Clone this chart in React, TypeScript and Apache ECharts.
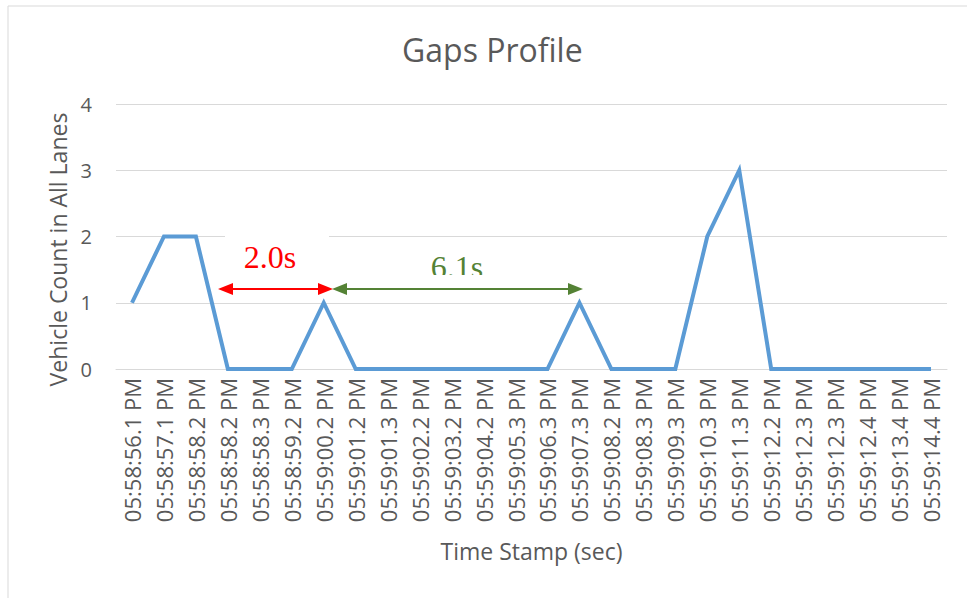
import React, { useEffect, useRef } from "react";
import * as echarts from "echarts";

const categories: string[] = [
  "05:58:56.1 PM", "05:58:57.1 PM", "05:58:58.2 PM", "05:58:58.2 PM", "05:58:58.3 PM",
  "05:58:59.2 PM", "05:59:00.2 PM", "05:59:01.2 PM", "05:59:01.3 PM", "05:59:02.2 PM",
  "05:59:03.2 PM", "05:59:04.2 PM", "05:59:05.3 PM", "05:59:06.3 PM", "05:59:07.3 PM",
  "05:59:08.2 PM", "05:59:08.3 PM", "05:59:09.3 PM", "05:59:10.3 PM", "05:59:11.3 PM",
  "05:59:12.2 PM", "05:59:12.3 PM", "05:59:12.3 PM", "05:59:12.4 PM", "05:59:13.4 PM",
  "05:59:14.4 PM",
];
const vehicleCounts: number[] = [1, 2, 2, 0, 0, 0, 1, 0, 0, 0, 0, 0, 0, 0, 1, 0, 0, 0, 2, 3, 0, 0, 0, 0, 0, 0];
const gapLabels: string[] = ["2.0s", "6.1s"];

const FONT = "'Open Sans', 'Noto Sans', sans-serif";
const GREY = "#595959";

export default function App() {
  const ref = useRef<HTMLDivElement>(null);
  useEffect(() => {
    if (!ref.current) return;
    const chart = echarts.init(ref.current, undefined, { renderer: "svg" });
    const arrowY = 289;
    const head = (tipX: number, dir: number, color: string) => ({
      type: "polygon",
      z: 10,
      shape: { points: [[tipX, arrowY], [tipX + dir * 15, arrowY - 6], [tipX + dir * 15, arrowY + 6]] },
      style: { fill: color },
    });
    chart.setOption({
      animation: false,
      backgroundColor: "#ffffff",
      title: {
        text: "Gaps Profile",
        left: 397,
        top: 28,
        textStyle: { color: GREY, fontFamily: FONT, fontSize: 32, fontWeight: "normal" },
      },
      grid: { left: 116, right: 20, top: 104, bottom: 229, containLabel: false },
      xAxis: {
        type: "category",
        data: categories,
        boundaryGap: true,
        name: "Time Stamp (sec)",
        nameLocation: "middle",
        nameGap: 170,
        nameTextStyle: { color: GREY, fontFamily: FONT, fontSize: 23 },
        axisLine: { show: true, lineStyle: { color: "#d9d9d9", width: 1 } },
        axisTick: { show: false },
        axisLabel: {
          rotate: 90,
          interval: 0,
          margin: 9,
          color: GREY,
          fontFamily: FONT,
          fontSize: 22,
        },
      },
      yAxis: {
        type: "value",
        min: 0,
        max: 4,
        interval: 1,
        name: "Vehicle Count in All Lanes",
        nameLocation: "middle",
        nameRotate: 90,
        nameGap: 47,
        nameTextStyle: { color: GREY, fontFamily: FONT, fontSize: 23, padding: [0, 26, 0, 0] },
        axisLine: { show: false },
        axisTick: { show: false },
        axisLabel: { color: GREY, fontFamily: FONT, fontSize: 20, margin: 24 },
        splitLine: { lineStyle: { color: "#d9d9d9", width: 1 } },
      },
      series: [
        {
          type: "line",
          data: vehicleCounts,
          symbol: "none",
          lineStyle: { color: "#5B9BD5", width: 4, join: "miter" },
          itemStyle: { color: "#5B9BD5" },
          z: 2,
        },
      ],
      graphic: [
        {
          type: "rect",
          z: -1,
          silent: true,
          shape: { x: 8, y: 6, width: 980, height: 620 },
          style: { fill: "none", stroke: "#d9d9d9", lineWidth: 1 },
        },
        {
          type: "rect",
          z: 5,
          shape: { x: 225, y: 232, width: 104, height: 40 },
          style: { fill: "#ffffff" },
        },
        {
          type: "text",
          z: 6,
          x: 270,
          y: 257,
          style: {
            text: gapLabels[0],
            fill: "#ff0000",
            font: "32px 'Liberation Serif', 'DejaVu Serif', serif",
            textAlign: "center",
            textVerticalAlign: "middle",
          },
        },
        {
          type: "text",
          z: 6,
          x: 457,
          y: 267,
          style: {
            text: gapLabels[1],
            fill: "#548235",
            font: "32px 'Liberation Serif', 'DejaVu Serif', serif",
            textAlign: "center",
            textVerticalAlign: "middle",
          },
        },
        {
          type: "rect",
          z: 7,
          shape: { x: 410, y: 275, width: 100, height: 8 },
          style: { fill: "#ffffff" },
        },
        {
          type: "line",
          z: 10,
          shape: { x1: 225, y1: arrowY, x2: 326, y2: arrowY },
          style: { stroke: "#ff0000", lineWidth: 2 },
        },
        head(218, 1, "#ff0000"),
        head(333, -1, "#ff0000"),
        {
          type: "line",
          z: 10,
          shape: { x1: 340, y1: arrowY, x2: 576, y2: arrowY },
          style: { stroke: "#548235", lineWidth: 2 },
        },
        head(332, 1, "#548235"),
        head(583, -1, "#548235"),
      ],
    });
    return () => chart.dispose();
  }, []);
  return (
    <div
      ref={ref}
      style={{ position: "fixed", left: 0, top: 0, width: 967, height: 598 }}
    />
  );
}
